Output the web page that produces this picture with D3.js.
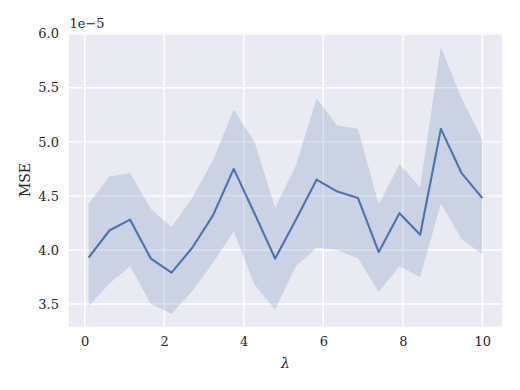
<!DOCTYPE html>
<html>
<head>
<meta charset="utf-8">
<script src="https://cdn.jsdelivr.net/npm/d3@7"></script>
<style>
  body { margin: 0; background: #fff; }
  svg text { font-family: "DejaVu Serif", serif; fill: #262626; }
</style>
</head>
<body>
<div id="chart"></div>
<script>
// values, MSE in units of 1e-5
var lambdas = [0.1, 0.621, 1.142, 1.663, 2.184, 2.705, 3.226, 3.747, 4.268, 4.789,
               5.311, 5.832, 6.353, 6.874, 7.395, 7.916, 8.437, 8.958, 9.479, 10.0];
var mseMean = [3.93, 4.18, 4.28, 3.92, 3.79, 4.02, 4.32, 4.75, 4.34, 3.92,
               4.28, 4.65, 4.54, 4.48, 3.98, 4.34, 4.14, 5.12, 4.71, 4.48];
var mseUpper = [4.43, 4.68, 4.71, 4.38, 4.21, 4.48, 4.83, 5.30, 5.00, 4.39,
                4.78, 5.40, 5.15, 5.12, 4.42, 4.79, 4.58, 5.88, 5.40, 5.02];
var mseLower = [3.48, 3.69, 3.85, 3.50, 3.41, 3.62, 3.88, 4.17, 3.68, 3.45,
                3.85, 4.02, 4.00, 3.92, 3.61, 3.85, 3.75, 4.43, 4.10, 3.96];
var xTicks = [0, 2, 4, 6, 8, 10];
var yTicks = [3.5, 4.0, 4.5, 5.0, 5.5, 6.0];

var W = 520, H = 390;
var margin = {top: 33.5, right: 18, bottom: 63.5, left: 69};
var width = W - margin.left - margin.right;
var height = H - margin.top - margin.bottom;

var svg = d3.select("#chart").append("svg")
    .attr("width", W)
    .attr("height", H);

var g = svg.append("g")
    .attr("transform", "translate(" + margin.left + "," + margin.top + ")");

var x = d3.scaleLinear().domain([-0.395, 10.495]).range([0, width]);
var y = d3.scaleLinear().domain([3.292, 6.002]).range([height, 0]);

// background
g.append("rect")
    .attr("width", width)
    .attr("height", height)
    .attr("fill", "#EAEAF2");

// grid
g.selectAll(".vgrid").data(xTicks).enter().append("line")
    .attr("x1", function(d) { return x(d); })
    .attr("x2", function(d) { return x(d); })
    .attr("y1", 0).attr("y2", height)
    .attr("stroke", "#fff").attr("stroke-width", 1.4);

g.selectAll(".hgrid").data(yTicks).enter().append("line")
    .attr("y1", function(d) { return y(d); })
    .attr("y2", function(d) { return y(d); })
    .attr("x1", 0).attr("x2", width)
    .attr("stroke", "#fff").attr("stroke-width", 1.4);

// axes (labels only, no ticks or domain line)
var xAxis = g.append("g")
    .attr("transform", "translate(0," + height + ")")
    .call(d3.axisBottom(x).tickValues(xTicks).tickSize(0).tickPadding(10).tickFormat(d3.format("d")));
var yAxis = g.append("g")
    .call(d3.axisLeft(y).tickValues(yTicks).tickSize(0).tickPadding(10).tickFormat(d3.format(".1f")));

[xAxis, yAxis].forEach(function(a) {
    a.select(".domain").remove();
    a.selectAll("text")
        .style("font-family", "'DejaVu Serif', serif")
        .style("font-size", "13px")
        .attr("fill", "#262626");
});

// confidence band
var band = lambdas.map(function(l, i) { return {x: l, lo: mseLower[i], hi: mseUpper[i], m: mseMean[i]}; });

g.append("path")
    .datum(band)
    .attr("fill", "#4C72B0")
    .attr("fill-opacity", 0.2)
    .attr("d", d3.area()
        .x(function(d) { return x(d.x); })
        .y0(function(d) { return y(d.lo); })
        .y1(function(d) { return y(d.hi); }));

// mean line
g.append("path")
    .datum(band)
    .attr("fill", "none")
    .attr("stroke", "#4C72B0")
    .attr("stroke-width", 2.1)
    .attr("stroke-linejoin", "round")
    .attr("d", d3.line()
        .x(function(d) { return x(d.x); })
        .y(function(d) { return y(d.m); }));

// offset text
g.append("text")
    .attr("x", 0.5)
    .attr("y", -6)
    .style("font-size", "13px")
    .text("1e\u22125");

// axis labels
svg.append("text")
    .attr("x", margin.left + width / 2)
    .attr("y", 368)
    .attr("text-anchor", "middle")
    .style("font-size", "14px")
    .style("font-style", "italic")
    .text("\u03bb");

svg.append("text")
    .attr("transform", "translate(30," + (margin.top + height / 2) + ") rotate(-90)")
    .attr("text-anchor", "middle")
    .style("font-size", "14px")
    .text("MSE");
</script>
</body>
</html>
